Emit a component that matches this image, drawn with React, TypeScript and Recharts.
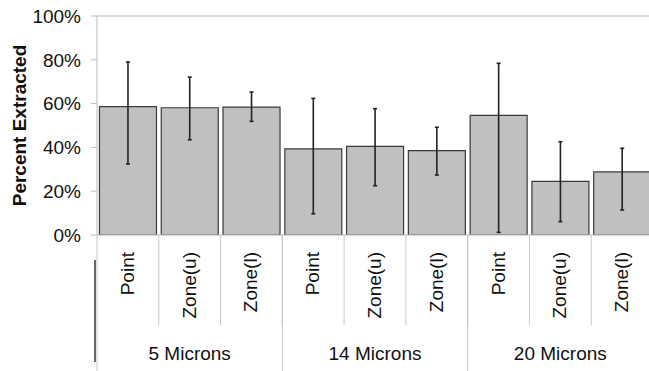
import React from "react"
import { BarChart, Bar, XAxis, YAxis, ErrorBar, ReferenceLine } from "recharts"

const groups = ["5 Microns", "5 Microns", "5 Microns", "14 Microns", "14 Microns", "14 Microns", "20 Microns", "20 Microns", "20 Microns"]
const methods = ["Point", "Zone(u)", "Zone(l)", "Point", "Zone(u)", "Zone(l)", "Point", "Zone(u)", "Zone(l)"]
const extracted = [58.6, 58.1, 58.4, 39.3, 40.5, 38.5, 54.6, 24.5, 28.8]
const errHigh = [79.0, 72.1, 65.3, 62.4, 57.7, 49.2, 78.4, 42.6, 39.6]
const errLow = [32.4, 43.5, 51.9, 9.7, 22.5, 27.4, 1.2, 6.1, 11.4]
const yTicks = [0, 20, 40, 60, 80, 100]

const data = methods.map((m, i) => ({
  method: m,
  group: groups[i],
  value: extracted[i],
  err: [extracted[i] - errLow[i], errHigh[i] - extracted[i]],
}))

const FONT = "'Liberation Sans', Arial, sans-serif"
const CHART_W = 660
const MARGIN_R = 7
const Y_W = 97
const BAND = (CHART_W - MARGIN_R - Y_W) / data.length
const SEP = "#c8c8c8"

const MethodTick = (props: any) => {
  const { x, y, payload, index } = props
  const half = BAND / 2
  return (
    <g>
      <line x1={x + half} y1={y} x2={x + half} y2={y + 90} stroke={SEP} />
      <text
        transform={`translate(${x + 6},${y + 17}) rotate(-90)`}
        textAnchor="end"
        fontSize={19}
        fontFamily={FONT}
        fill="#111"
      >
        {payload.value}
      </text>
      {index === 0 && null}
    </g>
  )
}

const GroupTick = (props: any) => {
  const { x, y, payload, index } = props
  const half = BAND / 2
  return (
    <g>
      {index === 0 && (
        <>
          <line x1={x - half} y1={y - 92} x2={x - half} y2={y + 44} stroke={SEP} />
          <line x1={x - half - 2} y1={y - 67} x2={x - half - 2} y2={y + 35} stroke="#666" strokeWidth={2} />
        </>
      )}
      {index % 3 === 2 && <line x1={x + half} y1={y - 92} x2={x + half} y2={y + 44} stroke={SEP} />}
      {index % 3 === 1 && (
        <text x={x} y={y + 33} textAnchor="middle" fontSize={19} fontFamily={FONT} fill="#111">
          {payload.value}
        </text>
      )}
    </g>
  )
}

export default function App() {
  return (
    <div style={{ position: "absolute", left: 0, top: 0, width: 649, height: 371, overflow: "hidden", background: "#fff" }}>
      <BarChart
        width={CHART_W}
        height={371}
        data={data}
        margin={{ top: 16, right: MARGIN_R, left: 0, bottom: 0 }}
        barCategoryGap="4%"
      >
        <XAxis
          dataKey="method"
          height={92}
          interval={0}
          tickLine={false}
          tickSize={0}
          tickMargin={0}
          axisLine={{ stroke: "#bbb" }}
          tick={<MethodTick />}
        />
        <XAxis
          xAxisId="group"
          dataKey="group"
          height={44}
          interval={0}
          tickLine={false}
          tickSize={0}
          tickMargin={0}
          axisLine={false}
          tick={<GroupTick />}
        />
        <YAxis
          width={Y_W}
          domain={[0, 100]}
          ticks={yTicks}
          allowDataOverflow
          tickFormatter={(v) => `${v}%`}
          tickSize={6}
          tickMargin={10}
          tickLine={{ stroke: "#bbb" }}
          axisLine={{ stroke: "#bbb" }}
          tick={{ fontSize: 19, fontFamily: FONT, fill: "#111" }}
          label={({ viewBox }: any) => {
            const cx = viewBox.x + 26
            const cy = viewBox.y + viewBox.height / 2
            return (
              <text
                x={cx}
                y={cy}
                transform={`rotate(-90, ${cx}, ${cy})`}
                textAnchor="middle"
                fontSize={19}
                fontWeight="bold"
                fontFamily={FONT}
                fill="#111"
              >
                Percent Extracted
              </text>
            )
          }}
        />
        <ReferenceLine y={100} stroke="#bbb" />
        <Bar dataKey="value" fill="#c0c0c0" stroke="#3a3a3a" strokeWidth={1.2} isAnimationActive={false}>
          <ErrorBar dataKey="err" width={2} stroke="#222" strokeWidth={1.6} direction="y" />
        </Bar>
      </BarChart>
    </div>
  )
}
